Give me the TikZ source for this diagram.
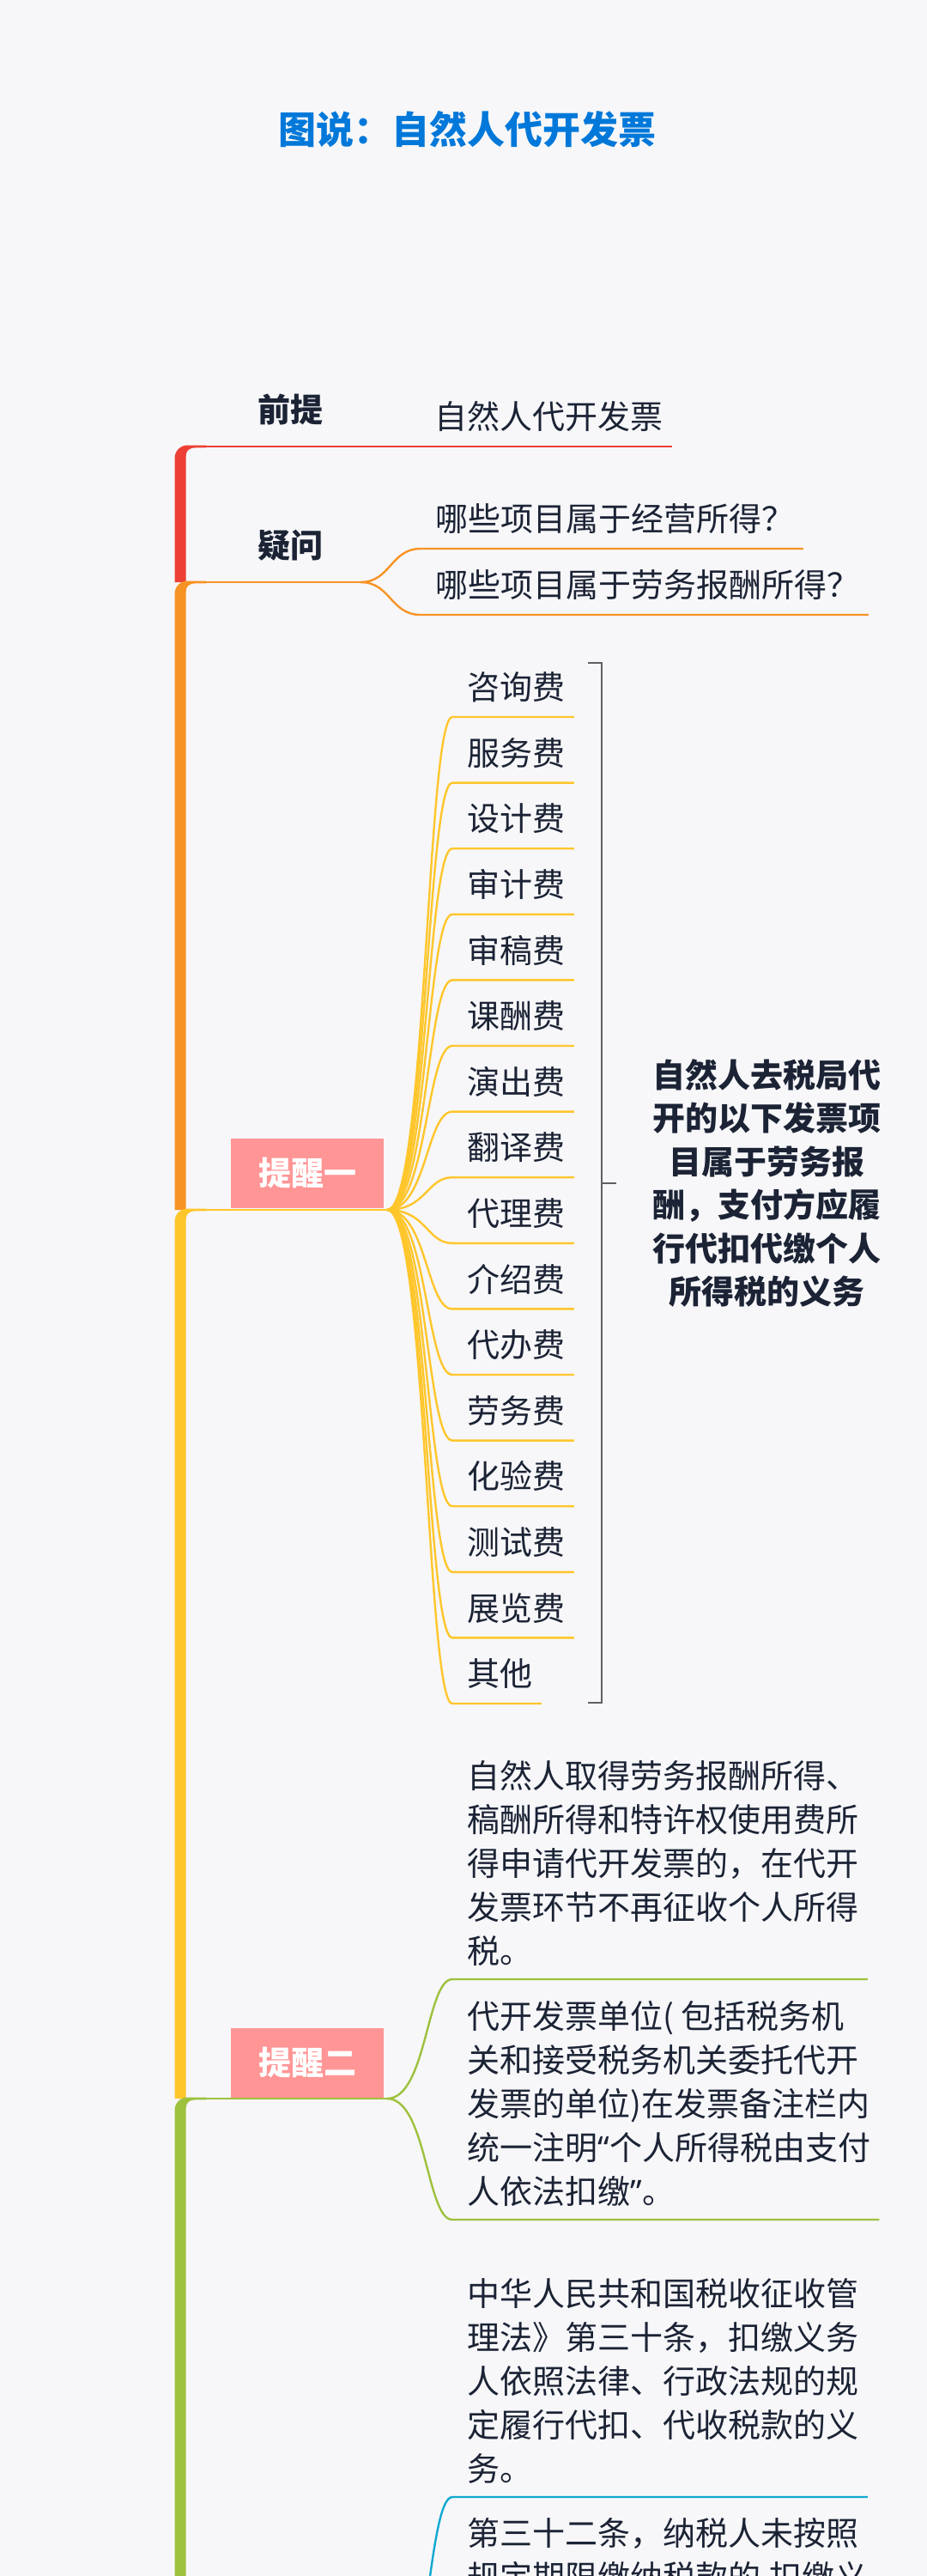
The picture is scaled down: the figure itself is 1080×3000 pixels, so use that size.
\documentclass[tikz,border=0pt]{standalone}
\usepackage{fontspec}
\setmainfont{Noto Sans CJK SC}
\newfontfamily\latinq{Noto Sans}
\definecolor{bgc}{RGB}{247,247,249}
\definecolor{ink}{RGB}{27,35,53}
\definecolor{ttlblue}{RGB}{0,120,217}
\definecolor{tred}{RGB}{236,64,54}
\definecolor{torange}{RGB}{247,147,36}
\definecolor{tyellow}{RGB}{255,198,44}
\definecolor{tgreen}{RGB}{158,193,62}
\definecolor{tblue}{RGB}{18,169,209}
\definecolor{pinkbox}{RGB}{255,149,149}
\definecolor{bracegray}{RGB}{95,95,100}

\begin{document}
\begin{tikzpicture}[x=0.5pt,y=-0.5pt,
    txt/.style={text=ink, font=\fontsize{19pt}{25.5pt}\selectfont},
    leaf/.style={txt, inner xsep=5pt, inner ysep=8.5pt, text height=16pt, text depth=1.5pt, anchor=south west},
    para/.style={txt, align=left, inner xsep=5pt, inner ysep=0pt, anchor=west},
    lbl/.style={text=ink, font=\bfseries\fontsize{19pt}{25.5pt}\selectfont},
    tip/.style={fill=pinkbox, text=white, font=\bfseries\fontsize{19pt}{25.5pt}\selectfont, minimum width=89pt, minimum height=40.5pt},
    branch/.style={line width=1.4pt},
    twig/.style={line width=1.2pt},
    brace/.style={draw=bracegray, line width=1pt}]

    \fill[bgc] (0,0) rectangle (1080,3000);
    \clip (0,0) rectangle (1080,3000);

    \node[text=ttlblue, font=\bfseries\fontsize{22pt}{26pt}\selectfont] (ttl) at (544,151) {图说：自然人代开发票};

    % trunk, one coloured piece per branch
    \foreach \yt/\yb/\c/\i in {520/678/tred/1, 678/1409/torange/2, 1409/2444/tyellow/3, 2444/3050/tgreen/4}{
        \fill[\c] (203.5,\yb) -- (203.5,\yt+13.5) arc[start angle=180, end angle=270, radius=15]
            -- (240,\yt-1.4) -- (240,\yt+1.4) -- (228,\yt+1.4)
            .. controls (220,\yt+1.4) and (216.5,\yt+5) .. (216.5,\yt+12) -- (216.5,\yb) -- cycle;
        \coordinate (r\i) at (240,\yt);
    }
    \coordinate (h2) at (420,678);
    \coordinate (h3) at (451,1409);
    \coordinate (h4) at (451,2444);
    \coordinate (h5) at (451,3180);

    % 前提
    \node[lbl] (qt) at (338,477) {前提};
    \node[leaf] (qt1) at (496,520) {自然人代开发票};
    \draw[tred, branch] (r1) -- (qt1.south east);

    % 疑问
    \node[lbl] (yw) at (338,635) {疑问};
    \draw[torange, branch] (r2) -- (h2);
    \node[leaf] (q1) at (497,639) {哪些项目属于经营所得？};
    \node[leaf] (q2) at (497,716) {哪些项目属于劳务报酬所得？};
    \foreach \i/\uy in {1/639, 2/716}
        \draw[torange, twig] (h2) .. controls (455,678) and (455,\uy) .. ([xshift=-3.5pt]q\i.south west) -- (q\i.south east);

    % 提醒一
    \draw[tyellow, branch] (r3) -- (h3);
    \node[tip] (tx1) at (358,1366) {提醒一};
    \foreach \t [count=\i] in {咨询费,服务费,设计费,审计费,审稿费,课酬费,演出费,翻译费,代理费,介绍费,代办费,劳务费,化验费,测试费,展览费,其他}{
        \pgfmathsetmacro\uy{835+76.6*(\i-1)}
        \node[leaf] (f\i) at (534,\uy) {\t};
        \draw[tyellow, twig] (h3) .. controls (497,1409) and (497,\uy) .. ([xshift=-3.5pt]f\i.south west) -- (f\i.south east);
    }
    \draw[brace] (685,772) -- (701,772) -- (701,1983) -- (685,1983);
    \draw[brace] (701,1378) -- (718,1378);
    \node[lbl, align=center, font=\bfseries\fontsize{19pt}{25.25pt}\selectfont] (nt) at (893,1378)
        {自然人去税局代\\开的以下发票项\\目属于劳务报\\酬，支付方应履\\行代扣代缴个人\\所得税的义务};

    % 提醒二
    \draw[tgreen, branch] (r4) -- (h4);
    \node[tip] (tx2) at (358,2402) {提醒二};
    \node[para] (p1) at (534,2169.5) {自然人取得劳务报酬所得、\\稿酬所得和特许权使用费所\\得申请代开发票的，在代开\\发票环节不再征收个人所得\\税。};
    \node[para] (p2) at (534,2449.5) {代开发票单位( 包括税务机\\关和接受税务机关委托代开\\发票的单位)在发票备注栏内\\统一注明{\latinq “}个人所得税由支付\\人依法扣缴{\latinq ”}。};
    \node[para] (p3) at (534,2772.5) {中华人民共和国税收征收管\\理法》第三十条，扣缴义务\\人依照法律、行政法规的规\\定履行代扣、代收税款的义\\务。};
    \node[para, anchor=north west] (p4) at (534,2932) {第三十二条，纳税人未按照\\规定期限缴纳税款的,扣缴义};
    \coordinate (u1) at (527,2305);
    \coordinate (u2) at (527,2585);
    \coordinate (u3) at (527,2908);
    \draw[tgreen, twig] (h4) .. controls (497,2444) and (497,2305) .. (u1) -- (u1 -| p1.east);
    \draw[tgreen, twig] (h4) .. controls (497,2444) and (497,2585) .. (u2) -- (u2 -| p2.east);
    \draw[tblue, twig] (h5) .. controls (497,3180) and (497,2908) .. (u3) -- (u3 -| p3.east);
\end{tikzpicture}
\end{document}
